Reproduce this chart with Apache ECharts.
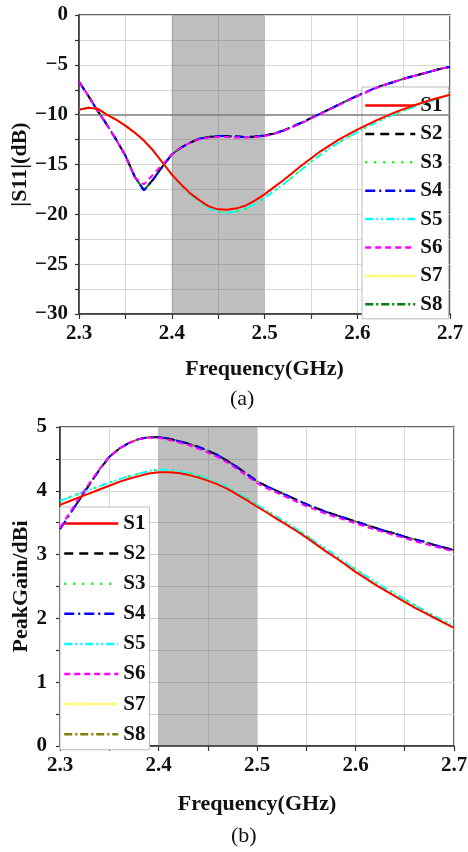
<!DOCTYPE html>
<html>
<head>
<meta charset="utf-8">
<script src="https://cdn.jsdelivr.net/npm/echarts@6/dist/echarts.min.js"></script>
<style>
html,body{margin:0;padding:0;background:#fff;}
#chart{width:468px;height:852px;}
</style>
</head>
<body>
<div id="chart"></div>
<script>
// ---- Data ----
const freq = [2.30,2.31,2.32,2.33,2.34,2.35,2.36,2.37,2.38,2.39,2.40,2.41,2.42,2.43,2.44,2.45,2.46,2.47,2.48,2.49,2.50,
              2.51,2.52,2.53,2.54,2.55,2.56,2.57,2.58,2.59,2.60,2.61,2.62,2.63,2.64,2.65,2.66,2.67,2.68,2.69,2.70];
const seriesNames = ['S1','S2','S3','S4','S5','S6','S7','S8'];
const xTicks = [2.3, 2.4, 2.5, 2.6, 2.7];
const s11Ticks = [0, -5, -10, -15, -20, -25, -30];
const gainTicks = [0, 1, 2, 3, 4, 5];
const band = [2.4, 2.5];
const s11Ref = -10;

// |S11| (dB) — S2, S4, S8
const s11_A = [-6.7,-8.1,-9.6,-11.0,-12.5,-14.1,-16.2,-17.6,-16.5,-15.2,-14.0,-13.3,-12.8,-12.4,-12.25,-12.15,-12.15,-12.2,-12.25,-12.2,-12.1,
               -11.9,-11.6,-11.2,-10.8,-10.35,-9.9,-9.45,-9.0,-8.55,-8.1,-7.7,-7.3,-7.0,-6.7,-6.4,-6.15,-5.9,-5.65,-5.4,-5.2];
// S6
const s11_A6 = [-6.7,-8.1,-9.6,-11.0,-12.5,-14.1,-16.3,-17.0,-16.0,-15.0,-14.0,-13.3,-12.8,-12.45,-12.3,-12.25,-12.25,-12.3,-12.3,-12.25,-12.15,
               -11.95,-11.65,-11.25,-10.85,-10.4,-9.95,-9.5,-9.05,-8.6,-8.15,-7.75,-7.35,-7.0,-6.7,-6.4,-6.15,-5.9,-5.65,-5.4,-5.2];
// S1, S7
const s11_B = [-9.5,-9.3,-9.4,-10.0,-10.5,-11.1,-11.8,-12.6,-13.6,-14.8,-16.0,-17.0,-17.9,-18.6,-19.2,-19.5,-19.55,-19.4,-19.1,-18.6,-18.0,
               -17.3,-16.6,-15.85,-15.1,-14.4,-13.7,-13.1,-12.5,-12.0,-11.5,-11.05,-10.6,-10.2,-9.8,-9.45,-9.1,-8.8,-8.5,-8.25,-8.0];
// S3, S5
const s11_B5 = [-9.5,-9.3,-9.4,-10.0,-10.5,-11.1,-11.8,-12.6,-13.6,-14.8,-16.0,-17.05,-18.0,-18.75,-19.4,-19.75,-19.85,-19.7,-19.4,-18.95,-18.35,
               -17.7,-17.0,-16.25,-15.5,-14.75,-14.05,-13.4,-12.8,-12.25,-11.75,-11.25,-10.8,-10.35,-9.95,-9.6,-9.25,-8.9,-8.6,-8.3,-8.05];

// Peak gain (dBi) — S2, S4, S8
const gain_A = [3.40,3.63,3.87,4.10,4.33,4.53,4.66,4.75,4.81,4.84,4.84,4.82,4.78,4.74,4.69,4.63,4.56,4.47,4.37,4.26,4.15,
                4.07,4.00,3.93,3.86,3.79,3.73,3.67,3.62,3.57,3.52,3.47,3.42,3.37,3.33,3.28,3.24,3.20,3.15,3.11,3.07];
// S6
const gain_A6 = [3.42,3.66,3.90,4.12,4.34,4.53,4.66,4.75,4.81,4.83,4.83,4.80,4.76,4.72,4.66,4.60,4.53,4.44,4.34,4.23,4.12,
                 4.04,3.97,3.90,3.83,3.76,3.70,3.64,3.59,3.54,3.49,3.44,3.39,3.35,3.30,3.26,3.21,3.17,3.13,3.09,3.05];
// S1, S7
const gain_B = [3.78,3.84,3.90,3.96,4.02,4.08,4.14,4.19,4.23,4.27,4.29,4.29,4.28,4.25,4.21,4.16,4.10,4.03,3.94,3.85,3.75,
                3.66,3.56,3.47,3.37,3.27,3.16,3.05,2.95,2.84,2.73,2.63,2.53,2.44,2.35,2.26,2.17,2.09,2.01,1.93,1.85];
// S3, S5
const gain_B3 = [3.84,3.90,3.96,4.02,4.07,4.13,4.18,4.23,4.27,4.31,4.33,4.33,4.31,4.28,4.24,4.19,4.13,4.06,3.97,3.88,3.78,
                 3.69,3.59,3.50,3.40,3.30,3.19,3.09,2.98,2.87,2.77,2.67,2.57,2.48,2.39,2.30,2.21,2.12,2.04,1.96,1.88];

// ---- Styles ----
const FONT = '"Times New Roman", "Liberation Serif", serif';
const styles = {
  S1: {color:'#ff0000', type:'solid'},
  S2: {color:'#000000', type:[9,6]},
  S3: {color:'#00ff00', type:[2,7]},
  S4: {color:'#0000ff', type:[10,4,2,4]},
  S5: {color:'#00ffff', type:[8,3,2,3,2,3]},
  S6: {color:'#ff00ff', type:[6,4]},
  S7: {color:'#ffff00', type:[1.5,1.5]},
  S8: {color:'#008000', type:[8,3,2,3]}
};
const topData = {S1:s11_B, S2:s11_A, S3:s11_B5, S4:s11_A, S5:s11_B5, S6:s11_A6, S7:s11_B, S8:s11_A};
const botData = {S1:gain_B, S2:gain_A, S3:gain_B3, S4:gain_A, S5:gain_B3, S6:gain_A6, S7:gain_B, S8:gain_A};
const zOrder = {S1:9, S2:3, S3:4, S4:5, S5:6, S6:7, S7:8, S8:2};

function pairs(arr){ return freq.map((f,i)=>[f, arr[i]]); }
function isTick(v, list){ return list.some(t => Math.abs(t - v) < 1e-6); }

const series = [];
series.push({type:'line', xAxisIndex:0, yAxisIndex:0, data:[], z:1, silent:true,
  markArea:{silent:true, itemStyle:{color:'rgba(100,100,100,0.42)'}, data:[[{xAxis:band[0]},{xAxis:band[1]}]]},
  markLine:{silent:true, symbol:'none', label:{show:false}, lineStyle:{color:'#7f7f7f', width:1.5, type:'solid'}, data:[{yAxis:s11Ref}]}
});
series.push({type:'line', xAxisIndex:1, yAxisIndex:1, data:[], z:1, silent:true,
  markArea:{silent:true, itemStyle:{color:'rgba(100,100,100,0.42)'}, data:[[{xAxis:band[0]},{xAxis:band[1]}]]}
});
seriesNames.forEach(n => {
  series.push({name:n, type:'line', xAxisIndex:0, yAxisIndex:0, symbol:'none', smooth:false, z:zOrder[n],
    lineStyle:{color:styles[n].color, type:styles[n].type, width:2}, itemStyle:{color:styles[n].color},
    data:pairs(topData[n])});
});
seriesNames.forEach(n => {
  const c = n === 'S8' ? '#808000' : styles[n].color;
  series.push({name:n, type:'line', xAxisIndex:1, yAxisIndex:1, symbol:'none', smooth:false, z:zOrder[n],
    lineStyle:{color:c, type:styles[n].type, width:2}, itemStyle:{color:c},
    data:pairs(botData[n])});
});

const labelFont = {fontFamily:FONT, fontWeight:'bold', fontSize:21, color:'#111'};
function xAxisCfg(idx, gap){
  return {type:'value', gridIndex:idx, min:2.3, max:2.7, interval:0.05,
    name:'Frequency(GHz)', nameLocation:'middle', nameGap:gap, nameMoveOverlap:false,
    nameTextStyle:{fontFamily:FONT, fontWeight:'bold', fontSize:22, color:'#111'},
    axisLine:{show:true, onZero:false, lineStyle:{color:'#333', width:1.5}},
    axisTick:{show:true, inside:false, length:5, lineStyle:{color:'#333', width:1.2}},
    axisLabel:Object.assign({margin:9, showMinLabel:true, showMaxLabel:true,
      formatter: v => isTick(v, xTicks) ? v.toFixed(1) : ''}, labelFont),
    splitLine:{show:true, lineStyle:{color:'#d6d6d6', width:1}}
  };
}
const legendCommon = {orient:'vertical', itemHeight:14, selectedMode:false,
  itemStyle:{color:'rgba(0,0,0,0)', borderColor:'rgba(0,0,0,0)', borderWidth:0},
  lineStyle:{width:2.5},
  backgroundColor:'#fff', borderColor:'#bdbdbd', borderWidth:1,
  textStyle:{fontFamily:FONT, fontWeight:'bold', fontSize:21, color:'#111', lineHeight:20}};

const option = {
  backgroundColor:'#fff',
  animation:false,
  grid:[
    {left:79, right:18, top:15, height:299, outerBoundsMode:'none', containLabel:false, show:true, borderColor:'#333', borderWidth:1.5, backgroundColor:'transparent'},
    {left:60, right:14, top:427, height:319, outerBoundsMode:'none', containLabel:false, show:true, borderColor:'#333', borderWidth:1.5, backgroundColor:'transparent'}
  ],
  xAxis:[xAxisCfg(0, 44), xAxisCfg(1, 47)],
  yAxis:[
    {type:'value', gridIndex:0, min:-30, max:0, interval:2.5,
     name:'|S11|(dB)', nameLocation:'middle', nameGap:48, nameMoveOverlap:false,
     nameTextStyle:{fontFamily:FONT, fontWeight:'bold', fontSize:22, color:'#111'},
     axisLine:{show:true, onZero:false, lineStyle:{color:'#333', width:1.5}},
     axisTick:{show:true, inside:false, length:4, lineStyle:{color:'#333', width:1.2}},
     axisLabel:Object.assign({margin:11, showMinLabel:true, showMaxLabel:true,
       formatter: v => isTick(v, s11Ticks) ? (v < 0 ? '\u2212' + Math.abs(v) : String(v)) : ''}, labelFont),
     splitLine:{show:true, lineStyle:{color:'#d6d6d6', width:1}}
    },
    {type:'value', gridIndex:1, min:0, max:5, interval:0.5,
     name:'PeakGain/dBi', nameLocation:'middle', nameGap:28, nameMoveOverlap:false,
     nameTextStyle:{fontFamily:FONT, fontWeight:'bold', fontSize:22, color:'#111'},
     axisLine:{show:true, onZero:false, lineStyle:{color:'#333', width:1.5}},
     axisTick:{show:true, inside:false, length:4, lineStyle:{color:'#333', width:1.2}},
     axisLabel:Object.assign({margin:13, showMinLabel:true, showMaxLabel:true,
       formatter: v => isTick(v, gainTicks) ? String(Math.round(v)) : ''}, labelFont),
     splitLine:{show:true, lineStyle:{color:'#d6d6d6', width:1}}
    }
  ],
  legend:[
    Object.assign({}, legendCommon, {left:362, top:87, padding:[8,6,4,2], itemGap:7.4, itemWidth:50,
      data:seriesNames.map(n => ({name:n}))}),
    Object.assign({}, legendCommon, {left:60, top:507, padding:[6,4,5,3], itemGap:9.1, itemWidth:54,
      data:seriesNames.map(n => n === 'S8' ? {name:n, lineStyle:{color:'#808000'}} : {name:n})})
  ],
  graphic:[
    {type:'text', left:230, top:388, style:{text:'(a)', font:'22px ' + FONT, fill:'#111'}},
    {type:'text', left:231, top:825, style:{text:'(b)', font:'22px ' + FONT, fill:'#111'}}
  ],
  series:series
};

const chart = echarts.init(document.getElementById('chart'), null, {renderer:'canvas'});
chart.setOption(option);
</script>
</body>
</html>
